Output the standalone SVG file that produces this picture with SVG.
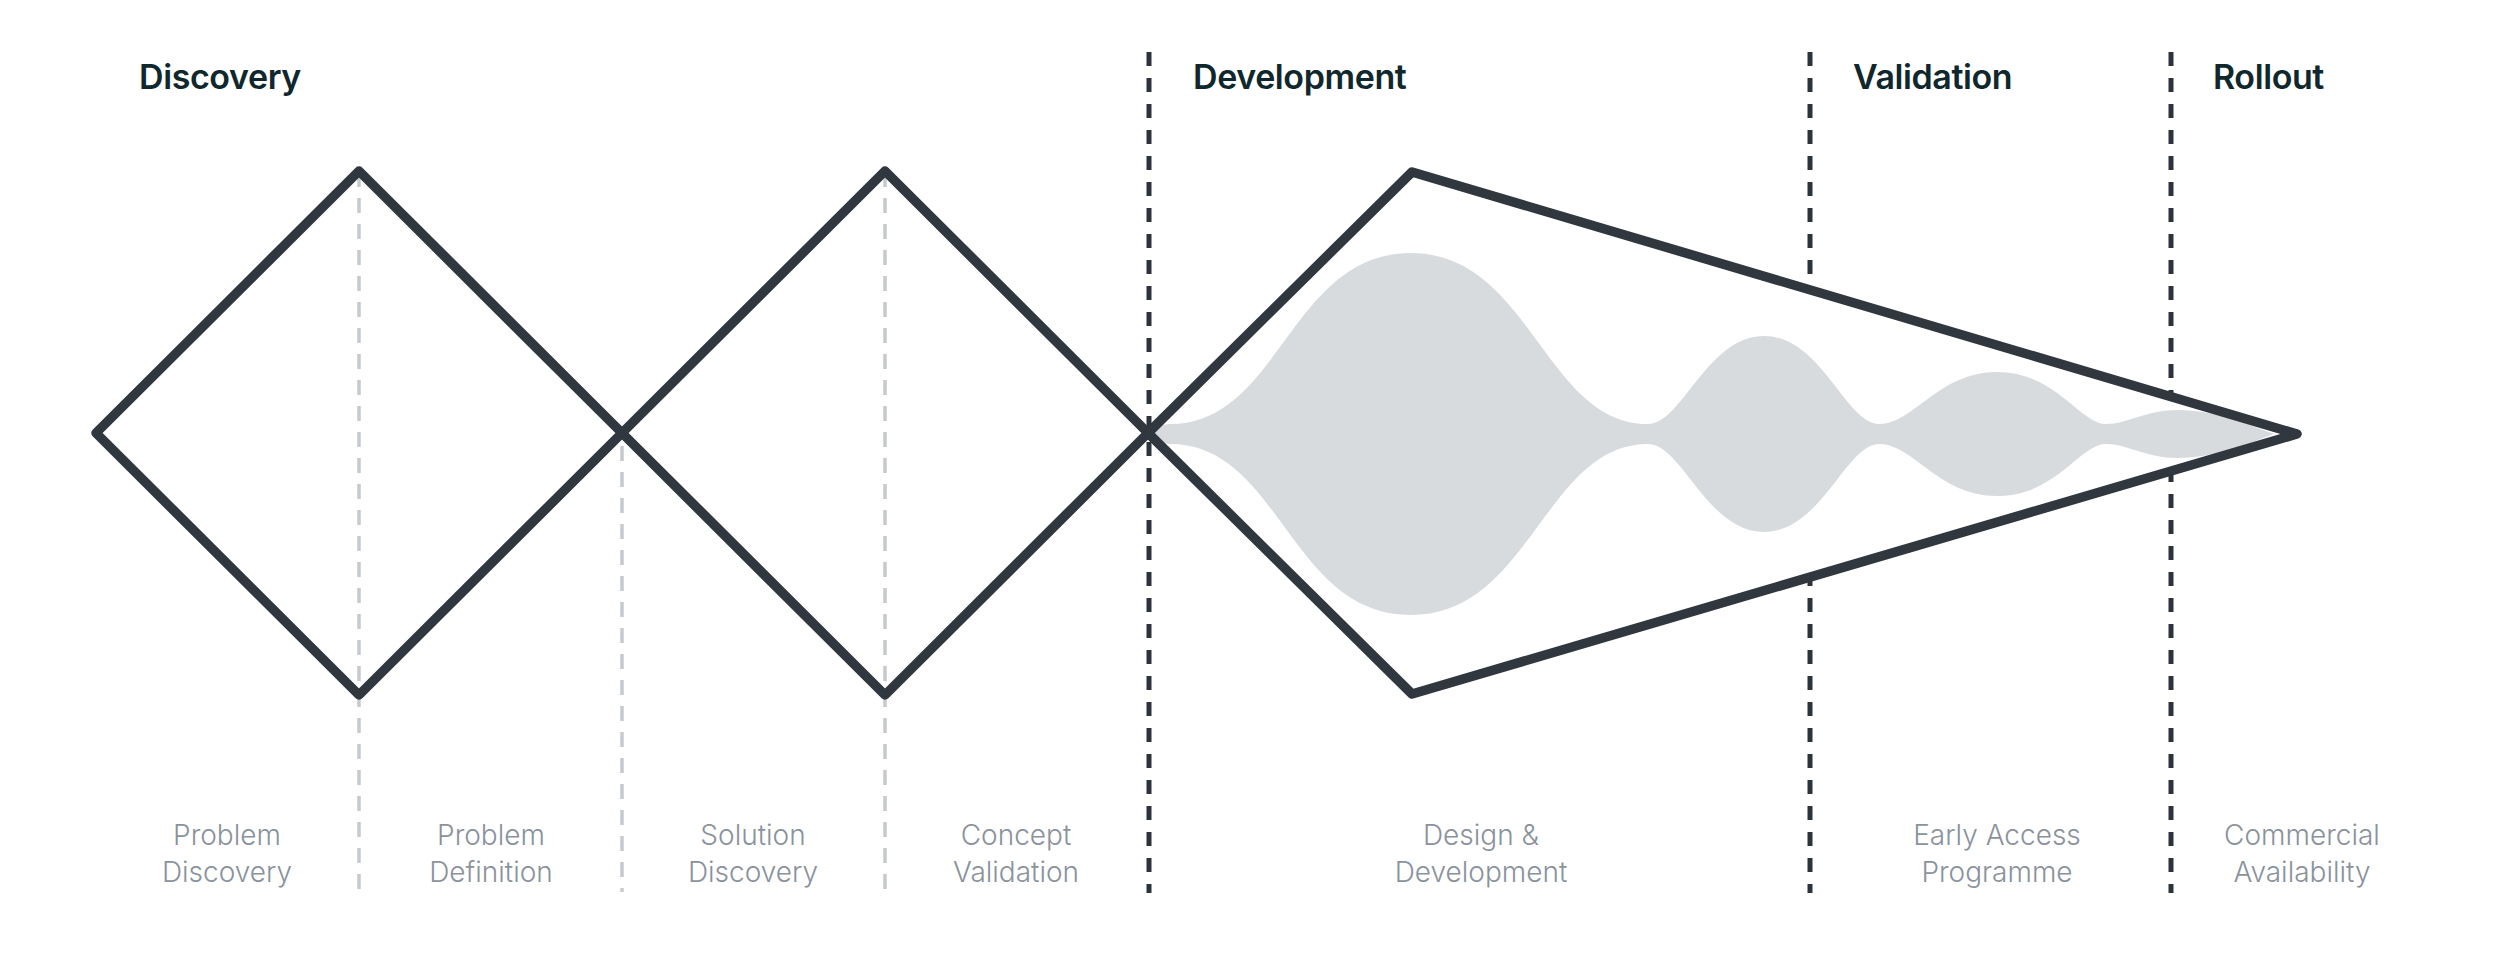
<svg xmlns="http://www.w3.org/2000/svg" width="2500" height="964" viewBox="0 0 2500 964">
<style>
.bg{fill:#ffffff}
.phase{font-family:Inter,"Liberation Sans",sans-serif;font-weight:600;font-size:34px;letter-spacing:-0.4px;fill:#10282d}
.lbl{font-family:Inter,"Liberation Sans",sans-serif;font-weight:300;font-size:28px;fill:#8a929c;text-anchor:middle}
.div{stroke:#2c333a;stroke-width:5;stroke-dasharray:14 12;fill:none}
.sub{stroke:#c6cace;stroke-width:3.5;stroke-dasharray:15 11;fill:none}
.shape{fill:none;stroke:#30373f;stroke-width:9.5;stroke-linejoin:round}
.blob{fill:#d8dbde}
</style>
<rect class="bg" x="0" y="0" width="2500" height="964"/>
<g id="connectors">
  <line class="div" x1="1149" y1="52" x2="1149" y2="893"/>
  <line class="div" x1="1810" y1="52" x2="1810" y2="893"/>
  <line class="div" x1="2171" y1="52" x2="2171" y2="893"/>
  <line class="sub" x1="359" y1="172" x2="359" y2="892"/>
  <line class="sub" x1="622" y1="446" x2="622" y2="892"/>
  <line class="sub" x1="885" y1="172" x2="885" y2="892"/>
</g>
<g id="diamond-problem">
  <path class="shape" d="M96 433 L359 171 L622 433 L359 695 Z"/>
</g>
<g id="diamond-solution">
  <path class="shape" d="M622 433 L885 171 L1148 433 L885 695 Z"/>
</g>
<g id="development-shape">
  <path d="M1148 433 L1412 172 L2297 434 L1412 694 Z" fill="#ffffff"/>
  <path class="blob" d="M1150 434 Q1156 424 1170 424 C1280 424 1290 253 1411 253 C1530 253 1545 424 1648 424 C1682 424 1707 336 1764 336 C1821 336 1846 424 1879 424 C1914 424 1938 372 1997 372 C2056 372 2080 424 2106 424 C2128 424 2145 410 2178 410 C2215 410 2250 425 2274 434 C2250 443 2215 458 2178 458 C2145 458 2128 444 2106 444 C2080 444 2056 496 1997 496 C1938 496 1914 444 1879 444 C1846 444 1821 532 1764 532 C1707 532 1682 444 1648 444 C1545 444 1530 615 1411 615 C1290 615 1280 444 1170 444 Q1156 444 1150 434 Z"/>
  <path class="shape" d="M1148 433 L1412 172 L2297 434 L1412 694 Z"/>
</g>
<g id="phase-discovery"><text class="phase" x="139" y="89">Discovery</text></g>
<g id="phase-development"><text class="phase" x="1193" y="89">Development</text></g>
<g id="phase-validation"><text class="phase" x="1853" y="89">Validation</text></g>
<g id="phase-rollout"><text class="phase" x="2213" y="89">Rollout</text></g>
<g id="label-problem-discovery"><text class="lbl" x="227" y="845">Problem</text><text class="lbl" x="227" y="882">Discovery</text></g>
<g id="label-problem-definition"><text class="lbl" x="491" y="845">Problem</text><text class="lbl" x="491" y="882">Definition</text></g>
<g id="label-solution-discovery"><text class="lbl" x="753" y="845">Solution</text><text class="lbl" x="753" y="882">Discovery</text></g>
<g id="label-concept-validation"><text class="lbl" x="1016" y="845">Concept</text><text class="lbl" x="1016" y="882">Validation</text></g>
<g id="label-design-development"><text class="lbl" x="1481" y="845">Design &amp;</text><text class="lbl" x="1481" y="882">Development</text></g>
<g id="label-early-access"><text class="lbl" x="1997" y="845">Early Access</text><text class="lbl" x="1997" y="882">Programme</text></g>
<g id="label-commercial"><text class="lbl" x="2302" y="845">Commercial</text><text class="lbl" x="2302" y="882">Availability</text></g>
</svg>
